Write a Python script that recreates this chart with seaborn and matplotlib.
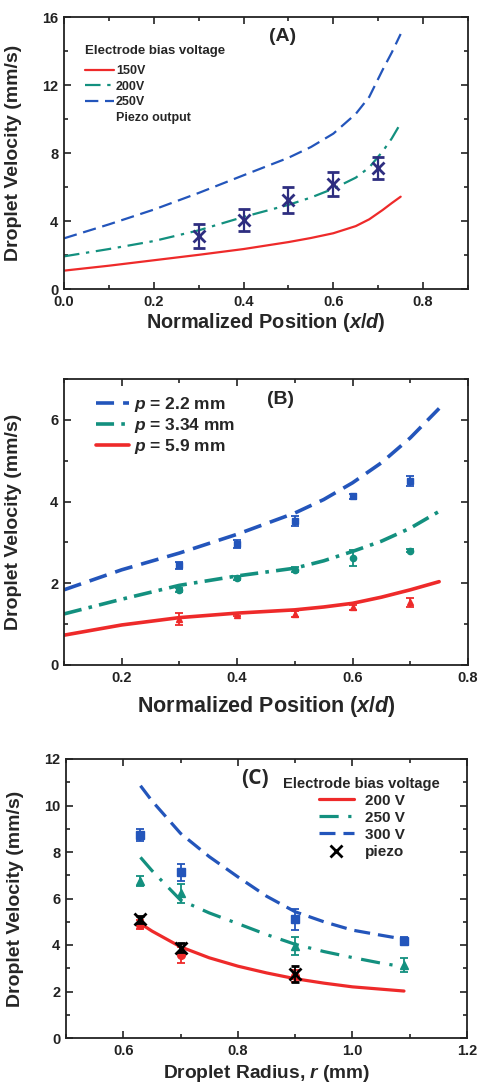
import numpy as np
import pandas as pd
import matplotlib
matplotlib.use("Agg")
import matplotlib.pyplot as plt
from matplotlib.lines import Line2D
from matplotlib.ticker import MultipleLocator, FormatStrFormatter
import seaborn as sns

# ---------------- Data ----------------
# Panel A
a_x = [0.0, 0.1, 0.2, 0.3, 0.4, 0.5, 0.55, 0.6, 0.65, 0.68, 0.71, 0.73, 0.75]
a_150 = [1.08, 1.37, 1.69, 2.01, 2.35, 2.76, 3.00, 3.28, 3.70, 4.10, 4.65, 5.05, 5.43]
a_200 = [1.92, 2.35, 2.82, 3.45, 4.24, 4.95, 5.38, 5.90, 6.55, 7.15, 8.10, 8.85, 9.75]
a_250 = [2.98, 3.80, 4.67, 5.65, 6.69, 7.72, 8.35, 9.14, 10.3, 11.3, 12.9, 13.9, 15.0]
a_px = [0.3, 0.4, 0.5, 0.6, 0.7]
a_py = [3.14, 4.08, 5.25, 6.20, 7.12]
a_pe = [0.70, 0.65, 0.75, 0.70, 0.63]

# Panel B
b_x = [0.1, 0.2, 0.3, 0.4, 0.5, 0.55, 0.6, 0.65, 0.7, 0.75]
b_22 = [1.84, 2.33, 2.74, 3.20, 3.72, 4.05, 4.46, 4.95, 5.56, 6.28]
b_334 = [1.25, 1.61, 1.95, 2.18, 2.37, 2.55, 2.78, 3.03, 3.35, 3.76]
b_59 = [0.73, 0.98, 1.16, 1.27, 1.35, 1.42, 1.51, 1.66, 1.84, 2.04]
b_px = [0.3, 0.4, 0.5, 0.6, 0.7]
b_22_y = [2.44, 2.97, 3.52, 4.13, 4.50]
b_22_e = [0.08, 0.10, 0.12, 0.06, 0.13]
b_334_y = [1.84, 2.12, 2.33, 2.62, 2.80]
b_334_e = [0.05, 0.05, 0.06, 0.20, 0.03]
b_59_y = [1.12, 1.23, 1.25, 1.41, 1.53]
b_59_e = [0.15, 0.04, 0.07, 0.06, 0.10]

# Panel C
c_x = [0.63, 0.65, 0.7, 0.75, 0.8, 0.85, 0.9, 0.95, 1.0, 1.05, 1.09]
c_300 = [10.85, 10.2, 8.80, 7.80, 6.93, 6.10, 5.43, 5.00, 4.64, 4.42, 4.25]
c_250 = [7.77, 7.20, 5.93, 5.38, 4.92, 4.45, 4.03, 3.72, 3.46, 3.22, 3.06]
c_200 = [4.92, 4.60, 3.92, 3.45, 3.09, 2.80, 2.55, 2.36, 2.20, 2.10, 2.02]
c_px = [0.63, 0.7, 0.9, 1.09]
c_300_y = [8.73, 7.12, 5.10, 4.18]
c_300_e = [0.25, 0.35, 0.45, 0.15]
c_250_y = [6.75, 6.22, 3.96, 3.16]
c_250_e = [0.20, 0.40, 0.40, 0.30]
c_200_px = [0.63, 0.7, 0.9]
c_200_y = [4.88, 3.56, 2.66]
c_200_e = [0.20, 0.35, 0.25]
c_pz_y = [5.11, 3.89, 2.74]
c_pz_e = [0.15, 0.20, 0.35]

RED = "#ee2a2a"
TEAL = "#13907f"
BLUE = "#2355bb"
NAVY = "#2e2e80"

sns.set_style("ticks")
plt.rcParams['font.family'] = ['Liberation Sans', 'DejaVu Sans']
plt.rcParams['font.weight'] = 'bold'
plt.rcParams['mathtext.fontset'] = 'custom'
plt.rcParams['mathtext.it'] = 'Liberation Sans:bold:italic'
plt.rcParams['mathtext.rm'] = 'Liberation Sans:bold'
plt.rcParams['axes.linewidth'] = 1.3

fig = plt.figure(figsize=(4.78, 10.89), dpi=100)
axA = fig.add_axes([64/478, 1-289/1089, 404/478, 272/1089])
axB = fig.add_axes([64/478, 1-665/1089, 404/478, 286/1089])
axC = fig.add_axes([66/478, 1-1038/1089, 401/478, 279/1089])


def style_axes(ax, xmaj, xmin, ymaj, ymin):
    ax.xaxis.set_major_locator(MultipleLocator(xmaj))
    ax.xaxis.set_minor_locator(MultipleLocator(xmin))
    ax.yaxis.set_major_locator(MultipleLocator(ymaj))
    ax.yaxis.set_minor_locator(MultipleLocator(ymin))
    ax.xaxis.set_major_formatter(FormatStrFormatter('%.1f'))
    ax.yaxis.set_major_formatter(FormatStrFormatter('%d'))
    ax.tick_params(which='both', direction='in', top=True, right=True,
                   width=1.2, colors='#222222')
    ax.tick_params(which='major', length=5, labelsize=10.5, labelcolor='#222222', pad=4)
    ax.tick_params(which='minor', length=3)
    for lab in ax.get_xticklabels() + ax.get_yticklabels():
        lab.set_fontweight('bold')
    for s in ax.spines.values():
        s.set_color('#222222')


# ---------- Panel A ----------
dfA = pd.DataFrame({'x': a_x, '150V': a_150, '200V': a_200, '250V': a_250})
sns.lineplot(data=dfA, x='x', y='150V', ax=axA, color=RED, lw=1.6)
sns.lineplot(data=dfA, x='x', y='200V', ax=axA, color=TEAL, lw=1.6,
             linestyle=(0, (7, 3, 1.5, 3)))
sns.lineplot(data=dfA, x='x', y='250V', ax=axA, color=BLUE, lw=1.6,
             linestyle=(0, (6, 3)))
axA.errorbar(a_px, a_py, yerr=a_pe, fmt='x', color=NAVY, ms=9, mew=2,
             elinewidth=1.6, capsize=4, capthick=1.6, zorder=5)
axA.set_xlim(0, 0.9)
axA.set_ylim(0, 16)
style_axes(axA, 0.2, 0.1, 4, 2)
axA.set_xlabel(r'Normalized Position ($\mathit{x/d}$)', fontsize=14.3, fontweight='bold', labelpad=2)
axA.set_ylabel('Droplet Velocity (mm/s)', fontsize=14, fontweight='bold')
axA.text(0.54, 0.93, '(A)', transform=axA.transAxes, fontsize=14, fontweight='bold',
         ha='center', va='center')
hA = [Line2D([], [], color=RED, lw=1.6),
      Line2D([], [], color=TEAL, lw=1.6, linestyle=(0, (7, 3, 1.5, 3))),
      Line2D([], [], color=BLUE, lw=1.6, linestyle=(0, (6, 3))),
      Line2D([], [], color='none')]
legA = axA.legend(hA, ['150V', '200V', '250V', 'Piezo output'], loc='upper left',
                  bbox_to_anchor=(0.03, 0.93), frameon=False, fontsize=9,
                  title='Electrode bias voltage', title_fontproperties={'weight': 'bold', 'size': 9.5},
                  alignment='left', handlelength=2.3, handletextpad=0.2, labelspacing=0.28,
                  borderpad=0.2)
legA._legend_box.sep = 6
for t in legA.get_texts():
    t.set_fontweight('bold')

# ---------- Panel B ----------
dfB = pd.DataFrame({'x': b_x, 'p22': b_22, 'p334': b_334, 'p59': b_59})
sns.lineplot(data=dfB, x='x', y='p22', ax=axB, color=BLUE, lw=2.6, linestyle=(0, (5, 2.5)))
sns.lineplot(data=dfB, x='x', y='p334', ax=axB, color=TEAL, lw=2.6, linestyle=(0, (5, 2, 1, 2)))
sns.lineplot(data=dfB, x='x', y='p59', ax=axB, color=RED, lw=2.6)
axB.errorbar(b_px, b_22_y, yerr=b_22_e, fmt='s', color=BLUE, ms=4.5,
             elinewidth=1.3, capsize=3, capthick=1.3, zorder=5)
axB.errorbar(b_px, b_334_y, yerr=b_334_e, fmt='o', color=TEAL, ms=4.5,
             elinewidth=1.3, capsize=3, capthick=1.3, zorder=5)
axB.errorbar(b_px, b_59_y, yerr=b_59_e, fmt='^', color=RED, ms=4.5,
             elinewidth=1.3, capsize=3, capthick=1.3, zorder=5)
axB.set_xlim(0.1, 0.8)
axB.set_ylim(0, 7)
style_axes(axB, 0.2, 0.1, 2, 1)
axB.set_xlabel(r'Normalized Position ($\mathit{x/d}$)', fontsize=15.5, fontweight='bold', labelpad=7)
axB.set_ylabel('Droplet Velocity (mm/s)', fontsize=14, fontweight='bold')
axB.text(0.535, 0.93, '(B)', transform=axB.transAxes, fontsize=14, fontweight='bold',
         ha='center', va='center')
hB = [Line2D([], [], color=BLUE, lw=2.6, linestyle=(0, (5, 2.5))),
      Line2D([], [], color=TEAL, lw=2.6, linestyle=(0, (5, 2, 1, 2))),
      Line2D([], [], color=RED, lw=2.6)]
legB = axB.legend(hB, [r'$\mathit{p}$ = 2.2 mm', r'$\mathit{p}$ = 3.34 mm', r'$\mathit{p}$ = 5.9 mm'],
                  loc='upper left', bbox_to_anchor=(0.05, 0.985), frameon=False, fontsize=12.5,
                  handlelength=1.9, handletextpad=0.25, labelspacing=0.1, borderpad=0.2)
for t in legB.get_texts():
    t.set_fontweight('bold')

# ---------- Panel C ----------
dfC = pd.DataFrame({'x': c_x, 'v300': c_300, 'v250': c_250, 'v200': c_200})
sns.lineplot(data=dfC, x='x', y='v300', ax=axC, color=BLUE, lw=2.3, linestyle=(0, (5, 2.5)))
sns.lineplot(data=dfC, x='x', y='v250', ax=axC, color=TEAL, lw=2.3, linestyle=(0, (6, 3, 1, 3)))
sns.lineplot(data=dfC, x='x', y='v200', ax=axC, color=RED, lw=2.3)
axC.errorbar(c_px, c_300_y, yerr=c_300_e, fmt='s', color=BLUE, ms=5.5,
             elinewidth=1.3, capsize=3, capthick=1.3, zorder=5)
axC.errorbar(c_px, c_250_y, yerr=c_250_e, fmt='^', color=TEAL, ms=6,
             elinewidth=1.3, capsize=3, capthick=1.3, zorder=5)
axC.errorbar(c_200_px, c_200_y, yerr=c_200_e, fmt='o', color=RED, ms=5.5,
             elinewidth=1.3, capsize=3, capthick=1.3, zorder=5)
axC.errorbar(c_200_px, c_pz_y, yerr=c_pz_e, fmt='x', color='black', ms=8, mew=2,
             elinewidth=1.3, capsize=3, capthick=1.3, zorder=6)
axC.set_xlim(0.5, 1.2)
axC.set_ylim(0, 12)
style_axes(axC, 0.2, 0.1, 2, 1)
axC.set_xlabel(r'Droplet Radius, $\mathit{r}$ (mm)', fontsize=13.8, fontweight='bold', labelpad=4)
axC.set_ylabel('Droplet Velocity (mm/s)', fontsize=14, fontweight='bold')
axC.text(0.47, 0.93, '(C)', transform=axC.transAxes, fontsize=15, fontweight='bold',
         ha='center', va='center', family=['Open Sans', 'DejaVu Sans'])
hC = [Line2D([], [], color=RED, lw=2.3),
      Line2D([], [], color=TEAL, lw=2.3, linestyle=(0, (6, 3, 1, 3))),
      Line2D([], [], color=BLUE, lw=2.3, linestyle=(0, (5, 2.5))),
      Line2D([], [], color='black', marker='x', ms=8, mew=2, linestyle='none')]
legC = axC.legend(hC, ['200 V', '250 V', '300 V', 'piezo'], loc='upper left',
                  bbox_to_anchor=(0.515, 0.975), frameon=False, fontsize=11,
                  title='Electrode bias voltage', title_fontproperties={'weight': 'bold', 'size': 10.6},
                  alignment='center', handlelength=2.3, handletextpad=0.7, labelspacing=0.2,
                  borderpad=0.2)
for t in legC.get_texts():
    t.set_fontweight('bold')

for ax in (axA, axB, axC):
    ax.yaxis.set_label_coords(-0.105, 0.5)

fig.savefig('out.png', dpi=100)
